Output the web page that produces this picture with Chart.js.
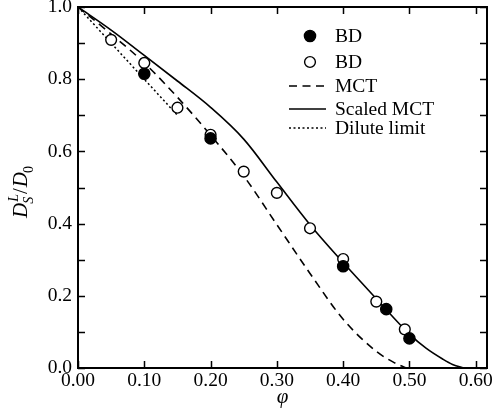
<!DOCTYPE html>
<html>
<head>
<meta charset="utf-8">
<script src="https://cdn.jsdelivr.net/npm/chart.js@4/dist/chart.umd.min.js"></script>
<style>
  html, body { margin: 0; padding: 0; background: #fff; }
  canvas { display: block; }
  #fontwarm { position: absolute; left: -1000px; top: 0; font-family: 'Liberation Serif'; }
</style>
</head>
<body>
<span id="fontwarm">0.00 BD <i>D φ</i></span>
<canvas id="c" width="494" height="418"></canvas>
<script>
// Brownian dynamics results (two sets)
const phiBDFilled = [0.10, 0.20, 0.40, 0.465, 0.50];
const dBDFilled   = [0.815, 0.636, 0.282, 0.163, 0.082];
const phiBDOpen   = [0.05, 0.10, 0.15, 0.20, 0.25, 0.30, 0.35, 0.40, 0.45, 0.493];
const dBDOpen     = [0.909, 0.845, 0.721, 0.646, 0.544, 0.485, 0.387, 0.302, 0.184, 0.107];

// Mode-coupling theory curve
const phiMCT = [0, 0.05, 0.10, 0.15, 0.20, 0.25, 0.30, 0.35, 0.40, 0.45, 0.475, 0.495];
const dMCT   = [1.0, 0.925, 0.845, 0.75, 0.645, 0.532, 0.397, 0.262, 0.135, 0.046, 0.017, 0.0];

// Scaled MCT curve
const phiScaled = [0, 0.05, 0.10, 0.15, 0.20, 0.25, 0.30, 0.35, 0.40, 0.45, 0.50, 0.525, 0.55, 0.565, 0.583];
const dScaled   = [1.0, 0.936, 0.866, 0.795, 0.722, 0.634, 0.515, 0.397, 0.292, 0.192, 0.094, 0.055, 0.025, 0.01, 0.0];

// Dilute limit
const phiDilute = [0, 0.15];
const dDilute   = [1.0, 0.70];

const xTickValues = [0, 0.1, 0.2, 0.3, 0.4, 0.5, 0.6];

const pts = (xs, ys) => xs.map((x, i) => ({ x: x, y: ys[i] }));

const SERIF = "'Liberation Serif', serif";

// Inward ticks on all four sides plus the frame
const framePlugin = {
  id: 'frame',
  afterDraw(chart) {
    const { ctx, chartArea: a, scales } = chart;
    const tl = 7;
    ctx.save();
    ctx.strokeStyle = '#000';
    ctx.lineWidth = 1.5;
    ctx.beginPath();
    scales.x.ticks.forEach(t => {
      const px = Math.round(scales.x.getPixelForValue(t.value)) + 0.5;
      ctx.moveTo(px, a.bottom); ctx.lineTo(px, a.bottom - tl);
      ctx.moveTo(px, a.top); ctx.lineTo(px, a.top + tl);
    });
    scales.y.ticks.forEach(t => {
      const py = Math.round(scales.y.getPixelForValue(t.value)) + 0.5;
      ctx.moveTo(a.left, py); ctx.lineTo(a.left + tl, py);
      ctx.moveTo(a.right, py); ctx.lineTo(a.right - tl, py);
    });
    ctx.stroke();
    ctx.lineWidth = 2;
    ctx.strokeRect(a.left, a.top, a.right - a.left, a.bottom - a.top);
    ctx.restore();
  }
};

// Rotated y-axis title with super/subscripts: D^L_S / D_0
const yTitlePlugin = {
  id: 'yTitle',
  afterDraw(chart) {
    const { ctx, chartArea: a } = chart;
    const fBigI = `italic 21px ${SERIF}`;
    const fBig = `21px ${SERIF}`;
    const fSmallI = `italic 14px ${SERIF}`;
    const fSmall = `14px ${SERIF}`;
    const w = (t, f) => { ctx.font = f; return ctx.measureText(t).width; };
    const wD = w('D', fBigI), wL = w('L', fSmallI), wS = w('S', fSmallI);
    const wSlash = w('/', fBig), w0 = w('0', fSmall);
    const scriptW = Math.max(wL, wS) + 1;
    const total = wD + scriptW + wSlash + 1 + wD + w0;
    ctx.save();
    ctx.fillStyle = '#000';
    ctx.textBaseline = 'alphabetic';
    ctx.textAlign = 'left';
    ctx.translate(27, (a.top + a.bottom) / 2 + 4);
    ctx.rotate(-Math.PI / 2);
    let x = -total / 2;
    ctx.font = fBigI; ctx.fillText('D', x, 0); x += wD;
    ctx.font = fSmallI; ctx.fillText('L', x + 1, -9); ctx.fillText('S', x - 1, 6); x += scriptW;
    ctx.font = fBig; ctx.fillText('/', x, 0); x += wSlash + 1;
    ctx.font = fBigI; ctx.fillText('D', x, 0); x += wD;
    ctx.font = fSmall; ctx.fillText('0', x - 1, 6);
    ctx.restore();
  }
};

// Legend drawn inside the plot area, using each dataset's own styling
const legendPlugin = {
  id: 'insideLegend',
  afterDraw(chart) {
    const { ctx } = chart;
    const ds = chart.data.datasets;
    const rows = [36, 62, 86, 109, 128];
    const markX = 310, lineX0 = 289, lineX1 = 326, textX = 335;
    ctx.save();
    ctx.font = `19.5px ${SERIF}`;
    ctx.textBaseline = 'middle';
    ctx.textAlign = 'left';
    ds.forEach((d, i) => {
      const y = rows[i];
      ctx.strokeStyle = '#000';
      if (d.showLine) {
        ctx.lineWidth = d.borderWidth;
        ctx.setLineDash(d.borderDash || []);
        ctx.beginPath();
        ctx.moveTo(lineX0, y); ctx.lineTo(lineX1, y);
        ctx.stroke();
        ctx.setLineDash([]);
      } else {
        ctx.lineWidth = d.pointBorderWidth;
        ctx.fillStyle = d.pointBackgroundColor;
        ctx.beginPath();
        ctx.arc(markX, y, d.pointRadius, 0, Math.PI * 2);
        ctx.fill();
        ctx.stroke();
      }
      ctx.fillStyle = '#000';
      ctx.fillText(d.label, textX, y + 1);
    });
    ctx.restore();
  }
};

function buildChart() {
  new Chart(document.getElementById('c'), {
    type: 'scatter',
    data: {
      datasets: [
        {
          label: 'BD',
          data: pts(phiBDFilled, dBDFilled),
          pointRadius: 5.6,
          pointBackgroundColor: '#000',
          pointBorderColor: '#000',
          pointBorderWidth: 1.4,
          showLine: false
        },
        {
          label: 'BD',
          data: pts(phiBDOpen, dBDOpen),
          pointRadius: 5.4,
          pointBackgroundColor: '#fff',
          pointBorderColor: '#000',
          pointBorderWidth: 1.4,
          showLine: false
        },
        {
          label: 'MCT',
          data: pts(phiMCT, dMCT),
          showLine: true,
          borderColor: '#000',
          borderWidth: 1.6,
          borderDash: [8, 5.5],
          pointRadius: 0,
          cubicInterpolationMode: 'monotone'
        },
        {
          label: 'Scaled MCT',
          data: pts(phiScaled, dScaled),
          showLine: true,
          borderColor: '#000',
          borderWidth: 1.6,
          pointRadius: 0,
          cubicInterpolationMode: 'monotone'
        },
        {
          label: 'Dilute limit',
          data: pts(phiDilute, dDilute),
          showLine: true,
          borderColor: '#000',
          borderWidth: 1.5,
          borderDash: [2, 2.5],
          pointRadius: 0
        }
      ]
    },
    options: {
      responsive: false,
      devicePixelRatio: 1,
      animation: false,
      events: [],
      layout: { padding: { top: 7, right: 5, left: 0, bottom: 0 } },
      plugins: {
        legend: { display: false },
        tooltip: { enabled: false }
      },
      scales: {
        x: {
          type: 'linear',
          min: 0,
          max: 0.617,
          grid: { display: false, drawTicks: false },
          border: { display: false },
          afterBuildTicks(scale) {
            scale.ticks = xTickValues.map(v => ({ value: v }));
          },
          ticks: {
            color: '#000',
            font: { family: SERIF, size: 19.5 },
            padding: 1,
            maxRotation: 0,
            autoSkip: false,
            callback: v => v.toFixed(2)
          },
          title: {
            display: true,
            text: 'φ',
            color: '#000',
            font: { family: SERIF, size: 21, style: 'italic' },
            padding: { top: 0, bottom: 8 }
          },
          afterFit(scale) {
            scale.height = 50;
            scale.paddingLeft = 0;
            scale.paddingRight = 0;
          }
        },
        y: {
          type: 'linear',
          min: 0,
          max: 1,
          grid: { display: false, drawTicks: false },
          border: { display: false },
          ticks: {
            stepSize: 0.1,
            color: '#000',
            font: { family: SERIF, size: 19.5 },
            padding: 6,
            autoSkip: false,
            callback: v => (Math.round(v * 10) % 2 === 0 ? v.toFixed(1) : '')
          },
          afterFit(scale) {
            scale.width = 78;
            scale.paddingTop = 0;
            scale.paddingBottom = 0;
          }
        }
      }
    },
    plugins: [framePlugin, yTitlePlugin, legendPlugin]
  });
}

Chart.defaults.font.family = SERIF;
const fontLoads = [
  document.fonts.load(`19.5px ${SERIF}`),
  document.fonts.load(`italic 21px ${SERIF}`)
];
Promise.all(fontLoads).then(buildChart, buildChart);
</script>
</body>
</html>
